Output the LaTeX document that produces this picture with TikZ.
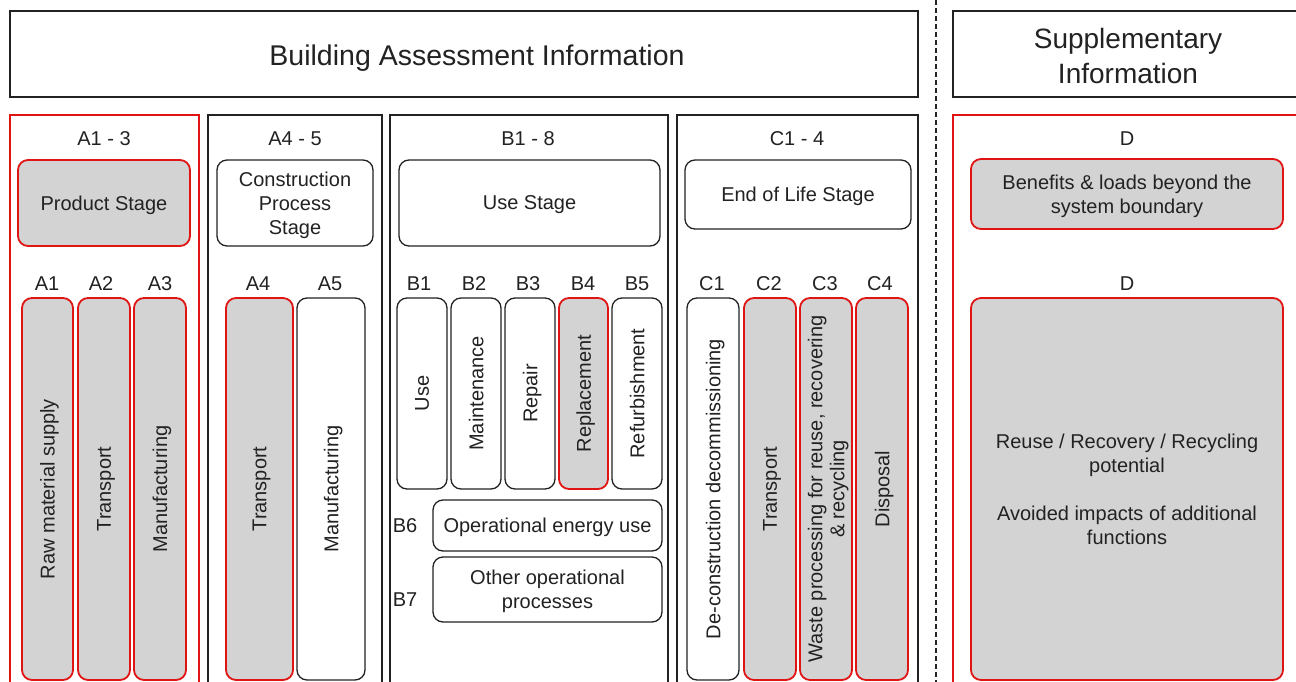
\documentclass[tikz,border=0pt]{standalone}
\usepackage{fontspec}
\setmainfont{Liberation Sans}
\definecolor{ink}{RGB}{34,34,34}
\definecolor{redl}{RGB}{225,20,20}
\definecolor{grayf}{RGB}{211,211,211}
\tikzset{
  panel/.style={draw=ink, line width=1.5pt},
  redpanel/.style={draw=redl, line width=2pt},
  wbox/.style={draw=ink, line width=1.3pt, rounded corners=10pt, fill=white, inner sep=0pt, outer sep=0pt, align=center, text=ink, text depth=0pt, font=\fontsize{20}{24}\selectfont},
  gbox/.style={wbox, draw=redl, line width=1.8pt, fill=grayf},
  lab/.style={text=ink, inner sep=0pt, text depth=0pt, font=\fontsize{20}{24}\selectfont},
}
% name, x1, y1, x2, y2, style, text
\newcommand\bx[7]{\node[#6, minimum width={#4-#2}, minimum height={#5-#3}] (#1) at ({(#2+#4)/2},{(#3+#5)/2}) {#7};}
\newcommand\vbx[7]{\node[#6, rotate=90, minimum width={#5-#3}, minimum height={#4-#2}] (#1) at ({(#2+#4)/2},{(#3+#5)/2}) {#7};}
\begin{document}
\begin{tikzpicture}[x=1pt,y=-1pt]
\useasboundingbox (0,0) rectangle (1296,682);
\clip (0,0) rectangle (1296,682);
\fill[white] (0,0) rectangle (1296,682);
% headers
\bx{bai}{10}{11}{918}{97}{panel, inner sep=0pt}{}
\node[text=ink, text depth=0pt, font=\fontsize{28.5}{34}\selectfont] (baitext) at (477,55) {Building Assessment Information};
\bx{sup}{953}{11}{1310}{97}{panel, inner sep=0pt}{}
\node[text=ink, align=center, text depth=0pt, font=\fontsize{28}{35}\selectfont] (suptext) at (1128,56) {Supplementary\\Information};
% dashed divider
\coordinate (dtop) at (936,0);
\coordinate (dbot) at (936,690);
\draw[ink, line width=1.5pt, dash pattern=on 5pt off 3pt] (dtop) -- (dbot);
% panels
\bx{pA13}{10}{115}{199}{700}{redpanel}{}
\bx{pA45}{208}{115}{382}{700}{panel}{}
\bx{pB}{390}{115}{668}{700}{panel}{}
\bx{pC}{677}{115}{918}{700}{panel}{}
\bx{pD}{953}{115}{1310}{700}{redpanel}{}
% panel labels
\node[lab] (lA13) at (104,139) {A1 - 3};
\node[lab] (lA45) at (295,139) {A4 - 5};
\node[lab] (lB) at (528,139) {B1 - 8};
\node[lab] (lC) at (797,139) {C1 - 4};
\node[lab] (lD1) at (1127,139) {D};
% stage boxes
\bx{prod}{18}{160}{190}{246}{gbox}{Product Stage}
\bx{cons}{217}{160}{373}{246}{wbox}{Construction\\Process\\Stage}
\bx{use}{399}{160}{660}{246}{wbox}{Use Stage}
\bx{eol}{685}{160}{911}{229}{wbox}{End of Life Stage}
\bx{ben}{971}{159}{1283}{229}{gbox}{Benefits \& loads beyond the\\system boundary}
% module labels
\node[lab] (lA1) at (47,284) {A1};
\node[lab] (lA2) at (101,284) {A2};
\node[lab] (lA3) at (160,284) {A3};
\node[lab] (lA4) at (258,284) {A4};
\node[lab] (lA5) at (330,284) {A5};
\node[lab] (lB1) at (419,284) {B1};
\node[lab] (lB2) at (474,284) {B2};
\node[lab] (lB3) at (528,284) {B3};
\node[lab] (lB4) at (583,284) {B4};
\node[lab] (lB5) at (637,284) {B5};
\node[lab] (lC1) at (712,284) {C1};
\node[lab] (lC2) at (769,284) {C2};
\node[lab] (lC3) at (825,284) {C3};
\node[lab] (lC4) at (880,284) {C4};
\node[lab] (lD2) at (1127,284) {D};
\node[lab] (lB6) at (405,526) {B6};
\node[lab] (lB7) at (405,600) {B7};
% tall modules
\vbx{A1}{22}{298}{73}{680}{gbox}{Raw material supply}
\vbx{A2}{78}{298}{130}{680}{gbox}{Transport}
\vbx{A3}{134}{298}{186}{680}{gbox}{Manufacturing}
\vbx{A4}{226}{298}{293}{680}{gbox}{Transport}
\vbx{A5}{297}{298}{365}{680}{wbox}{Manufacturing}
\vbx{B1}{397}{298}{447}{489}{wbox}{Use}
\vbx{B2}{451}{298}{501}{489}{wbox}{Maintenance}
\vbx{B3}{505}{298}{555}{489}{wbox}{Repair}
\vbx{B4}{559}{298}{608}{489}{gbox}{Replacement}
\vbx{B5}{612}{298}{662}{489}{wbox}{Refurbishment}
\bx{B6}{433}{500}{662}{551}{wbox}{Operational energy use}
\bx{B7}{433}{557}{662}{622}{wbox}{Other operational\\processes}
\vbx{C1}{687}{298}{739}{680}{wbox}{De-construction decommissioning}
\vbx{C2}{744}{298}{796}{680}{gbox}{Transport}
\vbx{C3}{800}{298}{852}{680}{gbox, font=\fontsize{20}{22}\selectfont}{Waste processing for reuse, recovering\\\& recycling}
\vbx{C4}{856}{298}{908}{680}{gbox}{Disposal}
\bx{D}{971}{298}{1283}{680}{gbox}{Reuse / Recovery / Recycling\\potential\\[24pt]Avoided impacts of additional\\functions}
\end{tikzpicture}
\end{document}
